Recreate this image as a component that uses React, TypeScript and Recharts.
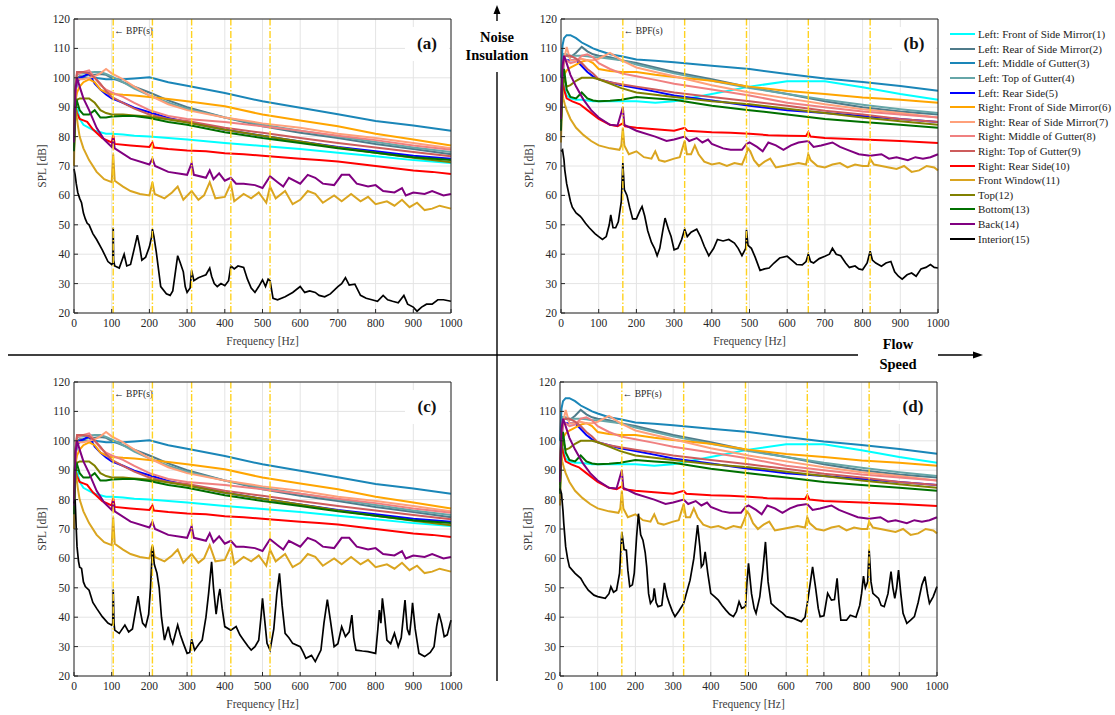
import { CartesianGrid, Label, Line, LineChart, ReferenceLine, XAxis, YAxis } from "recharts";

type Pair = [number, number];

// frequency grid for the smooth exterior spectra
const FREQ = [0, 4, 8, 15, 25, 40, 55, 70, 85, 100, 130, 160, 200, 250, 300, 400, 500, 600, 700, 800, 900, 1000];

// low flow speed, panels (a) and (c) -- exterior sensors
const LOW_1 = [78, 88, 90, 86, 84, 83, 82, 81.5, 81, 81, 80.7, 80.3, 80, 79.5, 79, 77.8, 76.8, 75.8, 74.5, 73.3, 72, 71];
const LOW_2 = [80, 95, 100, 100.5, 100.5, 101, 101, 101.3, 101, 100, 98.5, 97, 95, 92.3, 90, 86.5, 83.5, 81.3, 79.5, 77.5, 75.8, 74];
const LOW_3 = [85, 95, 98.5, 99.5, 100, 100, 100, 99.8, 99.5, 99.5, 99.5, 99.8, 100.2, 98.5, 97.3, 94.8, 92, 89.8, 87.6, 85.3, 83.8, 82];
const LOW_4 = [82, 97, 101, 101.5, 101.5, 101.8, 102, 102, 101.3, 100.5, 98.5, 96.3, 94, 91.5, 89.5, 86.5, 84, 82, 80, 78.2, 76.3, 74.8];
const LOW_5 = [80, 95, 99, 100, 100.5, 101.5, 98, 96, 94.3, 93, 91.5, 89.8, 88.3, 86.3, 85, 82.3, 80.3, 78.3, 76.5, 75, 73.5, 72.5];
const LOW_6 = [80, 92, 95, 97, 98.5, 99.5, 98.5, 96, 95, 94.5, 94.2, 94, 93.5, 92.8, 92, 90.3, 87.5, 85.5, 83.5, 81, 79, 77];
const LOW_7 = [80, 95, 99.5, 99.5, 99.5, 100, 100.5, 101.5, 103, 101.5, 99.5, 97, 94, 91, 89, 86.5, 84.5, 83, 81, 79.5, 77.8, 76];
const LOW_8 = [82, 97, 101.5, 101.5, 102, 102.5, 100, 97.5, 96, 95, 93.5, 91.5, 89, 87, 86, 85, 83.5, 82, 80.3, 78.8, 77, 75.5];
const LOW_9 = [82, 97, 102, 102, 102, 101.5, 100, 98, 95.5, 93.5, 91.5, 89.5, 87.5, 86, 85.3, 83, 81.3, 79.5, 77.8, 76.3, 74.8, 73.3];
const LOW_10: Pair[] = [[0, 78], [4, 90], [8, 88], [15, 86], [25, 85.5], [35, 85], [50, 82.5], [75, 79.5], [100, 78], [104, 80.5], [108, 77.5], [150, 77], [200, 76.5], [208, 78], [212, 76.3], [250, 75.8], [300, 75.3], [350, 75], [400, 74.3], [450, 74], [500, 73.5], [550, 73], [600, 72.5], [650, 72], [700, 71.5], [750, 70.8], [800, 70], [850, 69.2], [900, 68.5], [950, 68], [1000, 67.3]];
const LOW_11: Pair[] = [[0, 70], [3, 95], [6, 88], [10, 84], [15, 80], [25, 76], [40, 72], [60, 68], [80, 65.5], [100, 64.5], [104, 74], [108, 65], [130, 63], [150, 61.5], [175, 60.5], [200, 60], [208, 64.5], [214, 60.5], [240, 59], [260, 61], [275, 63], [290, 58.5], [312, 61.5], [330, 58.5], [345, 60], [360, 64.5], [375, 59], [400, 59.5], [416, 64], [425, 58], [450, 60.5], [470, 59], [490, 61], [510, 57.5], [520, 63], [535, 59], [560, 61.5], [580, 57], [600, 58.5], [620, 61.5], [640, 60.5], [660, 57.5], [690, 60], [710, 58], [735, 60.5], [760, 58], [780, 59.5], [800, 57], [830, 58], [850, 56.5], [870, 58.5], [890, 56], [910, 57.5], [930, 55], [950, 55.5], [970, 56.5], [1000, 55.5]];
const LOW_12 = [76, 90, 92.5, 93, 93, 93, 91.5, 89, 88, 87.5, 87.5, 87.2, 86.8, 85.8, 84.8, 82.3, 80.3, 78.3, 76.3, 74.5, 72.8, 71.3];
const LOW_13 = [75, 90, 92, 89, 87.5, 87.5, 89, 86.5, 86.5, 86.8, 87, 87, 86.3, 85, 84, 81.5, 79.5, 77.8, 76, 74.5, 73, 72];
const LOW_14: Pair[] = [[0, 78], [4, 96], [8, 100], [15, 97], [25, 93], [40, 89], [60, 83], [80, 79], [100, 76.5], [104, 79.5], [108, 76], [150, 72.5], [200, 70.5], [208, 72.5], [215, 70], [250, 68], [300, 67], [312, 71], [318, 67], [350, 66], [360, 68.5], [370, 65.5], [385, 67.5], [400, 65], [416, 66], [430, 64], [450, 64], [480, 63.5], [500, 62.5], [520, 66.5], [540, 64.5], [555, 63], [570, 66], [600, 64], [620, 67], [640, 66], [660, 64], [690, 63.5], [710, 67], [730, 67], [750, 64], [780, 63], [800, 63.5], [820, 61.5], [850, 61], [870, 62.5], [880, 60], [900, 61], [930, 60.5], [950, 61.5], [980, 60], [1000, 60.5]];

// high flow speed, panels (b) and (d) -- exterior sensors
const HIGH_1 = [88, 100, 97, 94, 93, 92.5, 92.5, 92.3, 92, 92, 92, 92, 92, 91.5, 92, 94.5, 97, 98.8, 98.8, 96.8, 94.5, 92.5];
const HIGH_2 = [90, 103, 108, 107.5, 107, 108.5, 110.5, 109, 108, 107.5, 107, 106, 105, 103.5, 102, 99.5, 96.8, 94.5, 92, 90, 88.5, 87.5];
const HIGH_3 = [100, 111, 113.5, 114.5, 114.5, 113.5, 112, 111, 110, 109.3, 108, 107.3, 106.2, 105.8, 105.3, 104.1, 103, 101.3, 99.8, 98.6, 97.2, 95.6];
const HIGH_4 = [90, 103, 108, 108, 107.5, 107.5, 107.5, 107.3, 107, 107, 106.5, 106, 104.5, 103, 101.5, 99, 96.5, 94.5, 92.5, 90.8, 89.3, 88];
const HIGH_5 = [88, 100, 106.5, 106, 106, 106, 104, 102, 100.5, 99.5, 98.5, 97.5, 96.5, 95.3, 94, 92.3, 90.5, 89, 88, 87, 86, 85];
const HIGH_6 = [88, 97, 101, 102.5, 103.5, 104.5, 105.5, 106, 105, 103, 102.3, 102, 102, 101, 100.3, 99, 97, 95.5, 94.5, 93.3, 92.5, 91.5];
const HIGH_7 = [92, 102, 106, 110.5, 106, 106, 106.5, 106, 106, 106.5, 108.5, 106, 103.5, 102, 100.5, 97.5, 95, 93, 91, 89.3, 88, 86.5];
const HIGH_8 = [92, 100, 106, 106, 105, 105.5, 107.5, 108, 107, 105, 103, 101.5, 100.5, 99.3, 98, 96, 94, 91.5, 90, 88.5, 87.5, 86.5];
const HIGH_9 = [90, 102, 107, 107.5, 107.5, 106.5, 105, 103, 101.5, 99.5, 98.5, 97.8, 97, 96, 95, 93.5, 92, 90.5, 88.8, 87.5, 86, 85];
const HIGH_10: Pair[] = [[0, 85], [4, 100], [8, 96], [15, 93], [30, 92], [50, 91], [70, 89], [100, 86], [130, 84], [150, 83.5], [164, 84.5], [170, 83.5], [200, 83], [250, 82.5], [300, 82], [328, 83], [335, 82], [400, 81.5], [450, 81.3], [500, 81], [550, 80.5], [600, 80.3], [650, 80.2], [656, 81.5], [662, 80], [700, 79.5], [750, 79.3], [800, 79], [850, 78.8], [900, 78.5], [950, 78.2], [1000, 77.8]];
const HIGH_11: Pair[] = [[0, 78], [3, 96], [6, 93], [10, 91], [15, 89], [25, 86], [40, 83], [60, 80.5], [80, 78.5], [100, 77], [130, 76], [155, 75.5], [160, 77], [164, 83], [168, 77], [180, 74], [200, 75], [220, 73], [240, 72.5], [250, 75], [260, 72], [275, 71.5], [300, 72.5], [315, 73], [322, 76], [328, 78.5], [334, 74], [345, 74], [355, 77], [365, 74], [380, 71.5], [400, 70.5], [420, 71], [440, 70], [460, 71], [480, 70.5], [490, 73.5], [496, 76], [502, 75], [512, 72], [525, 70], [540, 71.5], [555, 72.5], [570, 69.5], [590, 70], [610, 70.5], [630, 71], [650, 70.5], [656, 74], [662, 72], [680, 70], [700, 69.5], [720, 70.5], [740, 71], [760, 69.5], [780, 70.5], [800, 70], [815, 70], [820, 72.5], [830, 70.5], [850, 70], [870, 69.5], [890, 69], [910, 70], [930, 68], [950, 68.5], [970, 70], [990, 69.5], [1000, 68.5]];
const HIGH_12 = [85, 97, 100, 97, 97.5, 99, 100, 100, 100, 99.5, 98, 96.5, 95, 94.2, 93.5, 92, 91, 89.5, 88, 86.5, 85.2, 84];
const HIGH_13 = [82, 100, 103, 96, 93.5, 93, 95, 93, 92.3, 92, 92.2, 92.5, 93.5, 93, 92.5, 90.5, 89, 87.5, 86, 85, 84, 83];
const HIGH_14: Pair[] = [[0, 86], [4, 104], [8, 107.5], [15, 105], [25, 101], [40, 97], [60, 92.5], [80, 89], [100, 86.5], [130, 84], [150, 83.8], [164, 90], [168, 84], [200, 82], [250, 80], [280, 78.5], [300, 79], [328, 80], [340, 78.5], [360, 79.5], [375, 78], [390, 79], [400, 77.5], [430, 76], [450, 75.5], [480, 75.5], [492, 77.5], [500, 78], [520, 76.5], [535, 75], [550, 78], [570, 77], [590, 75.5], [610, 77], [630, 78], [656, 78.5], [670, 76.5], [690, 77], [720, 78], [740, 76.5], [760, 75.5], [790, 74], [820, 73.5], [850, 74], [870, 72.5], [890, 73], [920, 72], [940, 73], [960, 72.5], [980, 73], [1000, 74]];

// interior microphone, one per panel
const INT_A: Pair[] = [[0, 69], [3, 67], [6, 64], [10, 61], [15, 59], [20, 57.5], [25, 54], [30, 52], [35, 50.5], [40, 50], [50, 47], [60, 45], [75, 41.5], [90, 37.5], [100, 36.5], [103, 37], [104, 49], [105, 38], [108, 36], [120, 35.3], [133, 40], [140, 36], [150, 36.5], [160, 42], [168, 46.5], [175, 42], [180, 38], [190, 39], [200, 42.5], [206, 46], [208, 48.5], [212, 46], [218, 41], [230, 29], [245, 26.5], [255, 26], [262, 27.5], [275, 39.5], [282, 37], [290, 34], [295, 29], [300, 27], [308, 28.5], [312, 34.5], [318, 31], [330, 32], [340, 32.5], [350, 33], [360, 35.3], [365, 32.5], [372, 30], [380, 29], [390, 30], [400, 29.3], [410, 31], [416, 36], [425, 35], [435, 36], [450, 35.5], [460, 31.5], [470, 28.5], [480, 27], [490, 29], [500, 31.3], [508, 29], [515, 31.5], [520, 31], [528, 25], [540, 24.5], [560, 25.5], [580, 27], [600, 29], [612, 27], [625, 27.5], [640, 27], [650, 26], [665, 25.5], [680, 26.5], [700, 29], [710, 30], [720, 32], [730, 29.5], [745, 29.8], [760, 26], [775, 25], [790, 24.5], [805, 24], [820, 26], [832, 24.5], [845, 24], [860, 23.5], [875, 26], [885, 23], [900, 22], [910, 20.6], [922, 22], [935, 23], [950, 23], [965, 24.5], [980, 24.5], [1000, 24]];
const INT_B: Pair[] = [[0, 75], [4, 75.5], [8, 72], [10, 68.7], [15, 64], [20, 61], [25, 58], [30, 56], [40, 54], [50, 53], [55, 52.3], [65, 50.5], [75, 49], [90, 47], [100, 46], [110, 45], [120, 46], [128, 50], [132, 53.4], [138, 49], [145, 49], [152, 51], [160, 58], [164, 71], [168, 62], [175, 60], [182, 56], [190, 52], [200, 52], [210, 55], [215, 56.2], [222, 53], [230, 48], [240, 44], [248, 42], [255, 39.5], [262, 42], [270, 48], [276, 52.3], [285, 48.5], [292, 46], [300, 41.5], [310, 42], [320, 45], [328, 48.5], [335, 46], [345, 47.5], [360, 48.5], [370, 46], [380, 42.7], [392, 39.5], [405, 42], [415, 45], [430, 44.5], [445, 45], [460, 43.8], [470, 42], [480, 39.5], [490, 42], [492, 48.3], [496, 43], [505, 42], [515, 39], [528, 34.5], [540, 35], [552, 35.3], [565, 37], [580, 38.7], [600, 39.3], [612, 38], [625, 36.5], [640, 36.4], [650, 37.5], [656, 40], [662, 37.5], [670, 37], [685, 38.5], [700, 39.3], [712, 40], [720, 42], [730, 40], [742, 39.5], [755, 37], [765, 35.5], [780, 36], [790, 35], [800, 34.7], [812, 37], [820, 41], [826, 38], [835, 37], [850, 35.9], [862, 37], [875, 37.5], [885, 34], [895, 32.5], [905, 31.5], [918, 33], [930, 33.6], [942, 32.5], [955, 35], [968, 35.5], [980, 36.5], [990, 35.5], [1000, 35.3]];
const INT_C: Pair[] = [[0, 78.7], [3, 80], [6, 70], [8, 64], [12, 59], [15, 57], [20, 56.6], [25, 52], [30, 50.4], [40, 49.2], [50, 45], [60, 43], [75, 40.2], [90, 38], [100, 37.3], [103, 38], [104, 49.4], [106, 38], [108, 35.6], [120, 34.5], [135, 37.3], [145, 35], [155, 36], [163, 42], [170, 47.2], [176, 42], [182, 38], [190, 36.8], [198, 41], [203, 50], [208, 64], [213, 58], [220, 55], [226, 50], [232, 40], [240, 32.2], [250, 36.8], [256, 33], [262, 31], [275, 37.3], [282, 34], [290, 31.1], [300, 27.7], [307, 28], [312, 32.5], [320, 28.8], [332, 31], [340, 32.2], [350, 40], [357, 48], [365, 58.8], [370, 50], [377, 41], [383, 47], [387, 49.6], [393, 43], [400, 36.8], [416, 35.6], [430, 36.8], [440, 34], [450, 32.2], [462, 30], [470, 28.8], [480, 30], [490, 32.2], [496, 40], [500, 46.4], [505, 40], [512, 31.1], [520, 28.8], [530, 36], [538, 48], [545, 54.9], [552, 44], [560, 34.5], [570, 33], [580, 31.1], [600, 30], [608, 28], [615, 26], [630, 27], [640, 24.9], [648, 27], [655, 28.8], [663, 38], [672, 46], [680, 39], [690, 30], [700, 31], [710, 36.8], [720, 33.4], [730, 35], [737, 40.7], [742, 33], [748, 28.8], [765, 28.5], [780, 28.3], [800, 27.7], [806, 36], [810, 42.4], [814, 38], [818, 46.4], [824, 40], [830, 32.2], [840, 31], [850, 34.5], [860, 30], [868, 33], [875, 42], [878, 45.8], [884, 36], [890, 33.9], [895, 40], [898, 44.9], [905, 36], [915, 27.7], [930, 26.6], [945, 28], [955, 30], [962, 37], [968, 41.3], [975, 38], [982, 33.4], [990, 34], [1000, 39]];
const INT_D: Pair[] = [[0, 83.8], [4, 82], [8, 76], [10, 71.9], [15, 64], [20, 60], [25, 57.1], [40, 54.9], [55, 53.2], [65, 51], [75, 49.2], [90, 47.5], [100, 47], [120, 46.4], [130, 48], [135, 50.4], [142, 48.5], [150, 49.2], [158, 55], [164, 69], [170, 63], [176, 62.8], [180, 56], [185, 50.4], [192, 51], [197, 55], [203, 67], [208, 75.2], [214, 68], [220, 66.2], [226, 62], [230, 57.1], [235, 48], [240, 44.7], [247, 46], [250, 49.8], [255, 45], [260, 43.6], [270, 44], [277, 51.7], [284, 47], [290, 44.7], [298, 42], [305, 40.2], [315, 42], [328, 44.7], [335, 48], [345, 52.6], [355, 60], [365, 71.3], [371, 64], [375, 57.1], [380, 58], [385, 62.2], [392, 55], [400, 48.1], [410, 47], [420, 45.8], [430, 44], [440, 42.4], [450, 41], [460, 40.2], [468, 42], [475, 45.3], [482, 43], [492, 43.6], [496, 52], [500, 58.3], [508, 48], [515, 43], [520, 41.3], [530, 47], [538, 56], [545, 65.6], [552, 52], [560, 44.7], [570, 43.5], [580, 42.4], [590, 41.5], [600, 40.2], [620, 39.6], [640, 38.5], [650, 40], [656, 44.7], [662, 50], [670, 57.1], [678, 50], [685, 43], [690, 40.2], [700, 40.5], [710, 48.1], [720, 45.8], [728, 46], [735, 53.2], [740, 45], [745, 39], [760, 39], [770, 40.7], [785, 40], [795, 44], [800, 48.1], [805, 54], [810, 50], [816, 52], [820, 63], [825, 52], [830, 48.1], [845, 46.4], [852, 44], [860, 43.6], [870, 48], [878, 55.5], [883, 50], [888, 46.4], [893, 50], [898, 56], [904, 48], [910, 41.3], [920, 37.9], [930, 39], [940, 40.2], [950, 45], [960, 51], [968, 53.8], [975, 48], [980, 44.7], [990, 47], [1000, 50.4]];

const NAMES = [
  "Left: Front of Side Mirror(1)",
  "Left: Rear of Side Mirror(2)",
  "Left: Middle of Gutter(3)",
  "Left: Top of Gutter(4)",
  "Left: Rear Side(5)",
  "Right: Front of Side Mirror(6)",
  "Right: Rear of Side Mirror(7)",
  "Right: Middle of Gutter(8)",
  "Right: Top of Gutter(9)",
  "Right: Rear Side(10)",
  "Front Window(11)",
  "Top(12)",
  "Bottom(13)",
  "Back(14)",
  "Interior(15)",
];
const COLORS = [
  "#00ffff", "#4f7b8a", "#1a86b8", "#66a6a8", "#0000ff",
  "#ffa500", "#ffa07a", "#f08080", "#cd5c5c", "#ff0000",
  "#daa520", "#808000", "#007000", "#800080", "#000000",
];

const X_TICKS = [0, 100, 200, 300, 400, 500, 600, 700, 800, 900, 1000];
const Y_TICKS = [20, 30, 40, 50, 60, 70, 80, 90, 100, 110, 120];
const BPF_LOW = [104, 208, 312, 416, 520];
const BPF_HIGH = [164, 328, 492, 656, 820];

const onGrid = (vals: number[]) => FREQ.map((f, i) => ({ f, v: vals[i] }));
const fromPairs = (p: Pair[]) => p.map(([f, v]) => ({ f, v }));

const LOW_SET = [
  onGrid(LOW_1), onGrid(LOW_2), onGrid(LOW_3), onGrid(LOW_4), onGrid(LOW_5),
  onGrid(LOW_6), onGrid(LOW_7), onGrid(LOW_8), onGrid(LOW_9), fromPairs(LOW_10),
  fromPairs(LOW_11), onGrid(LOW_12), onGrid(LOW_13), fromPairs(LOW_14),
];
const HIGH_SET = [
  onGrid(HIGH_1), onGrid(HIGH_2), onGrid(HIGH_3), onGrid(HIGH_4), onGrid(HIGH_5),
  onGrid(HIGH_6), onGrid(HIGH_7), onGrid(HIGH_8), onGrid(HIGH_9), fromPairs(HIGH_10),
  fromPairs(HIGH_11), onGrid(HIGH_12), onGrid(HIGH_13), fromPairs(HIGH_14),
];

const FONT = "'Liberation Serif', 'Times New Roman', serif";
const AXIS = "#262626";

// chart box; the plot itself spans x 74..451, y 19..313 inside it
const W = 470;
const H = 350;

const YLabel = ({ viewBox }: any) => {
  const x = viewBox.x + 42;
  const y = viewBox.y + viewBox.height / 2;
  return (
    <text x={x} y={y} transform={`rotate(-90 ${x} ${y})`} textAnchor="middle" dominantBaseline="central"
      fontSize={11.5} fill="#404040" fontFamily={FONT}>
      SPL [dB]
    </text>
  );
};

const XLabel = ({ viewBox }: any) => (
  <text x={viewBox.x + viewBox.width / 2} y={viewBox.y + 28} textAnchor="middle" dominantBaseline="central"
    fontSize={11.5} fill="#404040" fontFamily={FONT}>
    Frequency [Hz]
  </text>
);

const BpfLabel = ({ viewBox }: any) => (
  <text x={viewBox.x + 1} y={viewBox.y + 15} fontSize={9.5} fill="#262626" fontFamily={FONT}>
    ← BPF(s)
  </text>
);

type PanelProps = { left: number; top: number; tag: string; exterior: { f: number; v: number }[][]; interior: Pair[]; bpf: number[] };

const Panel = ({ left, top, tag, exterior, interior, bpf }: PanelProps) => {
  const series = [...exterior, fromPairs(interior)];
  return (
    <div style={{ position: "absolute", left, top, width: W, height: H }}>
      <LineChart width={W} height={H} margin={{ top: 18, right: 18, bottom: 0, left: 0 }}>
        <CartesianGrid stroke="#e4e4e4" strokeWidth={1} />
        <XAxis type="number" dataKey="f" domain={[0, 1000]} ticks={X_TICKS} height={37} stroke={AXIS}
          tickSize={-4} tickMargin={10} interval={0}
          tick={{ fontSize: 11.5, fill: AXIS, fontFamily: FONT }}>
          <Label content={XLabel} />
        </XAxis>
        <XAxis xAxisId="top" orientation="top" type="number" domain={[0, 1000]} ticks={X_TICKS} height={1}
          stroke={AXIS} tick={false} tickSize={-4} />
        <YAxis type="number" domain={[20, 120]} ticks={Y_TICKS} width={74} stroke={AXIS}
          tickSize={-4} tickMargin={8} interval={0}
          tick={{ fontSize: 11.5, fill: AXIS, fontFamily: FONT }}>
          <Label content={YLabel} />
        </YAxis>
        <YAxis yAxisId="right" orientation="right" type="number" domain={[20, 120]} ticks={Y_TICKS} width={1}
          stroke={AXIS} tick={false} tickSize={-4} />
        {series.map((d, i) => (
          <Line key={NAMES[i]} name={NAMES[i]} data={d} dataKey="v" type="linear" stroke={COLORS[i]}
            strokeWidth={i === 14 ? 1.7 : 2} dot={false} activeDot={false} isAnimationActive={false} />
        ))}
        {bpf.map((x, i) => (
          <ReferenceLine key={x} x={x} stroke="#ffd21f" strokeWidth={1.4} strokeDasharray="7 2 1.5 2"
            label={i === 0 ? BpfLabel : undefined} />
        ))}
      </LineChart>
      <div style={{
        position: "absolute", left: 405, top: 27, width: 44, height: 34, background: "#fff",
        display: "flex", alignItems: "center", justifyContent: "center",
        fontFamily: FONT, fontWeight: 700, fontSize: 17, color: "#111",
      }}>
        {tag}
      </div>
    </div>
  );
};

const Legend = () => (
  <div style={{ position: "absolute", left: 950, top: 27, fontFamily: FONT, fontSize: 11, color: "#222" }}>
    {NAMES.map((n, i) => (
      <div key={n} style={{ display: "flex", alignItems: "center", height: 14.6, whiteSpace: "nowrap" }}>
        <span style={{ display: "inline-block", width: 25, height: 2, background: COLORS[i], marginRight: 3 }} />
        <span>{n}</span>
      </div>
    ))}
  </div>
);

const Arrows = () => (
  <svg width={1115} height={715} style={{ position: "absolute", left: 0, top: 0, pointerEvents: "none" }}>
    <line x1={497} y1={681} x2={497} y2={72} stroke="#000" strokeWidth={1.4} />
    <line x1={497} y1={21} x2={497} y2={12} stroke="#000" strokeWidth={1.4} />
    <polygon points="497,5 493.5,14 500.5,14" fill="#000" />
    <text x={497} y={37} textAnchor="middle" dominantBaseline="central" fontFamily={FONT} fontWeight={700} fontSize={14.5}>Noise</text>
    <text x={497} y={55} textAnchor="middle" dominantBaseline="central" fontFamily={FONT} fontWeight={700} fontSize={14.5}>Insulation</text>
    <line x1={8} y1={355} x2={858} y2={355} stroke="#000" strokeWidth={1.4} />
    <line x1={938} y1={355} x2={975} y2={355} stroke="#000" strokeWidth={1.4} />
    <polygon points="983,355 973,351.5 973,358.5" fill="#000" />
    <text x={898} y={344} textAnchor="middle" dominantBaseline="central" fontFamily={FONT} fontWeight={700} fontSize={14.5}>Flow</text>
    <text x={898} y={364} textAnchor="middle" dominantBaseline="central" fontFamily={FONT} fontWeight={700} fontSize={14.5}>Speed</text>
  </svg>
);

export default function App() {
  return (
    <div style={{ position: "absolute", left: 0, top: 0, width: 1115, height: 715, background: "#fff", fontFamily: FONT }}>
      <Panel left={0} top={0} tag="(a)" exterior={LOW_SET} interior={INT_A} bpf={BPF_LOW} />
      <Panel left={487} top={0} tag="(b)" exterior={HIGH_SET} interior={INT_B} bpf={BPF_HIGH} />
      <Panel left={0} top={363} tag="(c)" exterior={LOW_SET} interior={INT_C} bpf={BPF_LOW} />
      <Panel left={486} top={363} tag="(d)" exterior={HIGH_SET} interior={INT_D} bpf={BPF_HIGH} />
      <Legend />
      <Arrows />
    </div>
  );
}
